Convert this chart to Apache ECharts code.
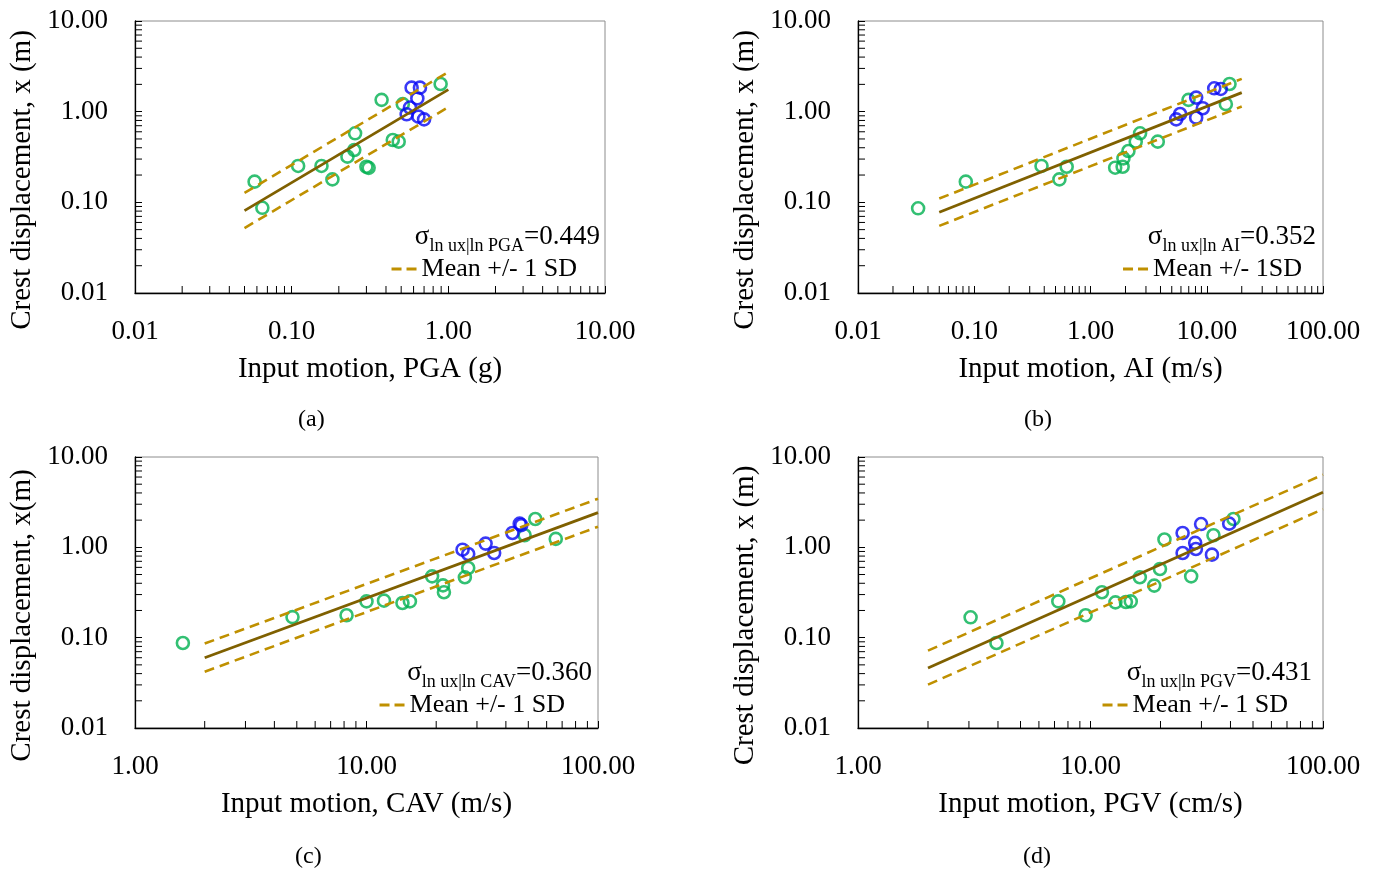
<!DOCTYPE html>
<html><head><meta charset="utf-8">
<script src="https://cdn.jsdelivr.net/npm/echarts@6/dist/echarts.min.js"></script>
<style>html,body{margin:0;padding:0;background:#fff}#c{width:1380px;height:869px}</style>
</head><body><div id="c"></div>
<script>
// ---------- DATA ----------
// (a) PGA
const aGreenX = [0.058, 0.065, 0.110, 0.155, 0.182, 0.227, 0.251, 0.254, 0.300, 0.310, 0.375, 0.442, 0.482, 0.512, 0.893];
const aGreenY = [0.169, 0.087, 0.252, 0.252, 0.179, 0.319, 0.378, 0.577, 0.247, 0.240, 1.35, 0.487, 0.467, 1.21, 2.02];
const aBlueX  = [0.583, 0.659, 0.634, 0.569, 0.542, 0.644, 0.700];
const aBlueY  = [1.84, 1.84, 1.40, 1.11, 0.935, 0.881, 0.822];
const aFitX   = [0.05, 1.0];
const aFitMean  = [0.081, 1.75];
const aFitUpper = [0.127, 2.74];
const aFitLower = [0.052, 1.12];
// (b) AI
const bGreenX = [0.0329, 0.0846, 0.379, 0.540, 0.624, 1.63, 1.89, 1.92, 2.12, 2.45, 2.67, 3.79, 6.97, 14.6, 15.7];
const bGreenY = [0.0859, 0.169, 0.252, 0.179, 0.247, 0.241, 0.247, 0.305, 0.368, 0.467, 0.577, 0.467, 1.35, 1.21, 2.02];
const bBlueX  = [11.6, 13.2, 8.11, 9.25, 5.90, 5.46, 8.11];
const bBlueY  = [1.81, 1.78, 1.43, 1.09, 0.943, 0.822, 0.859];
const bFitX   = [0.05, 20];
const bFitMean  = [0.0776, 1.62];
const bFitUpper = [0.110, 2.30];
const bFitLower = [0.055, 1.14];
// (c) CAV
const cGreenX = [1.61, 4.79, 8.20, 10.0, 11.9, 14.3, 15.4, 19.2, 21.4, 21.6, 26.6, 27.5, 48.2, 53.6, 65.7];
const cGreenY = [0.0873, 0.169, 0.177, 0.252, 0.257, 0.242, 0.252, 0.477, 0.379, 0.318, 0.466, 0.590, 1.36, 2.06, 1.24];
const cBlueX  = [26.0, 27.5, 32.7, 35.6, 42.7, 45.9, 46.6];
const cBlueY  = [0.942, 0.843, 1.10, 0.865, 1.44, 1.83, 1.76];
const cFitX   = [2, 100];
const cFitMean  = [0.060, 2.42];
const cFitUpper = [0.086, 3.45];
const cFitLower = [0.042, 1.69];
// (d) PGV
const dGreenX = [3.05, 3.94, 7.27, 9.53, 11.2, 12.8, 14.2, 14.9, 16.3, 18.8, 19.9, 20.8, 27.1, 33.8, 41.2];
const dGreenY = [0.168, 0.0873, 0.252, 0.177, 0.318, 0.246, 0.248, 0.252, 0.466, 0.377, 0.576, 1.22, 0.477, 1.36, 2.06];
const dBlueX  = [29.9, 24.9, 28.2, 28.4, 24.9, 33.3, 39.5];
const dBlueY  = [1.81, 1.44, 1.12, 0.958, 0.865, 0.830, 1.83];
const dFitX   = [2, 100];
const dFitMean  = [0.0461, 4.07];
const dFitUpper = [0.0718, 6.37];
const dFitLower = [0.0302, 2.65];

// axis ranges / tick decades
const yRange = [0.01, 10];
const yDecades = [0.01, 0.1, 1];
const aXRange = [0.01, 10],  aXDecades = [0.01, 0.1, 1];
const bXRange = [0.01, 100], bXDecades = [0.01, 0.1, 1, 10];
const cXRange = [1, 100],    cXDecades = [1, 10];
const dXRange = [1, 100],    dXDecades = [1, 10];
const minorMultipliers = [2, 3, 4, 5, 6, 7, 8, 9];

// texts
const xNames = ['Input motion, PGA (g)', 'Input motion, AI (m/s)', 'Input motion, CAV (m/s)', 'Input motion, PGV (cm/s)'];
const yNames = ['Crest displacement, x (m)', 'Crest displacement, x (m)', 'Crest displacement, x(m)', 'Crest displacement, x (m)'];
const sigmaSubs = ['ln ux|ln PGA', 'ln ux|ln AI', 'ln ux|ln CAV', 'ln ux|ln PGV'];
const sigmaVals = ['=0.449', '=0.352', '=0.360', '=0.431'];
const legendNames = ['Mean +/- 1 SD', 'Mean +/- 1SD', 'Mean +/- 1 SD', 'Mean +/- 1 SD'];
const panelLabels = ['(a)', '(b)', '(c)', '(d)'];

// ---------- LAYOUT ----------
const FONT = '"Liberation Serif", "Times New Roman", serif';
const zip = (xs, ys) => xs.map((x, i) => [x, ys[i]]);
const minorTicks = decs => { const r = []; decs.forEach(d => minorMultipliers.forEach(m => r.push(+(d * m).toPrecision(3)))); return r; };
const DASH_ICON = 'path://M0,0H10V3H0Z M15,0H25V3H15Z';

const panels = [
  { grid: {left: 135, top: 21, width: 470, height: 272}, xr: aXRange, xd: aXDecades,
    g: [aGreenX, aGreenY], b: [aBlueX, aBlueY], fit: [aFitX, aFitMean, aFitUpper, aFitLower],
    sig: {right: 775, top: 214}, leg: {right: 798, top: 251}, lab: {left: 293, top: 403} },
  { grid: {left: 858, top: 21, width: 465, height: 272}, xr: bXRange, xd: bXDecades,
    g: [bGreenX, bGreenY], b: [bBlueX, bBlueY], fit: [bFitX, bFitMean, bFitUpper, bFitLower],
    sig: {right: 59, top: 214}, leg: {right: 73, top: 251}, lab: {left: 1019, top: 403} },
  { grid: {left: 135, top: 457, width: 463, height: 271}, xr: cXRange, xd: cXDecades,
    g: [cGreenX, cGreenY], b: [cBlueX, cBlueY], fit: [cFitX, cFitMean, cFitUpper, cFitLower],
    sig: {right: 783, top: 650}, leg: {right: 810, top: 687}, lab: {left: 290, top: 840} },
  { grid: {left: 858, top: 457, width: 465, height: 271}, xr: dXRange, xd: dXDecades,
    g: [dGreenX, dGreenY], b: [dBlueX, dBlueY], fit: [dFitX, dFitMean, dFitUpper, dFitLower],
    sig: {right: 63, top: 650}, leg: {right: 87, top: 687}, lab: {left: 1018, top: 840} }
];

const option = {
  backgroundColor: '#fff', animation: false,
  grid: [], xAxis: [], yAxis: [], series: [], title: [], legend: []
};

panels.forEach((p, i) => {
  option.grid.push(Object.assign({show: true, borderColor: '#8c8c8c', borderWidth: 1, containLabel: false}, p.grid));
  const axisCommon = {
    type: 'log', logBase: 10, gridIndex: i,
    axisLine: {show: true, onZero: false, lineStyle: {color: '#000', width: 1.3}},
    axisTick: {show: true, inside: true, length: 7, lineStyle: {color: '#000', width: 1}},
    splitLine: {show: false}, minorTick: {show: false},
    axisLabel: {fontSize: 27, fontFamily: FONT, color: '#000', formatter: v => Number(v).toFixed(2)},
    nameLocation: 'middle', nameTextStyle: {fontSize: 29, fontFamily: FONT, color: '#000'}
  };
  option.xAxis.push(Object.assign({}, axisCommon, {
    min: p.xr[0], max: p.xr[1], name: xNames[i], nameGap: 62,
    axisLabel: Object.assign({}, axisCommon.axisLabel, {margin: 25})
  }));
  option.yAxis.push(Object.assign({}, axisCommon, {
    min: yRange[0], max: yRange[1], name: yNames[i], nameGap: 98,
    axisLabel: Object.assign({}, axisCommon.axisLabel, {margin: 27}),
    nameTextStyle: Object.assign({}, axisCommon.nameTextStyle, {padding: [0, 46, 0, 0]})
  }));

  // minor ticks (Excel-style 2..9 per decade), placed through the axes' scales
  option.series.push({
    type: 'custom', xAxisIndex: i, yAxisIndex: i, silent: true, z: 1,
    data: minorTicks(p.xd).map(v => [v, yRange[0]]),
    renderItem: (params, api) => {
      const pt = api.coord([api.value(0), api.value(1)]);
      return {type: 'line', shape: {x1: pt[0], y1: pt[1], x2: pt[0], y2: pt[1] - 7}, style: {stroke: '#000', lineWidth: 1}};
    }
  });
  option.series.push({
    type: 'custom', xAxisIndex: i, yAxisIndex: i, silent: true, z: 1,
    data: minorTicks(yDecades).map(v => [p.xr[0], v]),
    renderItem: (params, api) => {
      const pt = api.coord([api.value(0), api.value(1)]);
      return {type: 'line', shape: {x1: pt[0], y1: pt[1], x2: pt[0] + 7, y2: pt[1]}, style: {stroke: '#000', lineWidth: 1}};
    }
  });

  // points
  option.series.push({
    type: 'scatter', xAxisIndex: i, yAxisIndex: i, z: 3, symbol: 'circle', symbolSize: 12,
    itemStyle: {color: 'rgba(0,0,0,0)', borderColor: '#00B050', borderWidth: 2.6},
    data: zip(p.g[0], p.g[1])
  });
  option.series.push({
    type: 'scatter', xAxisIndex: i, yAxisIndex: i, z: 3, symbol: 'circle', symbolSize: 12,
    itemStyle: {color: 'rgba(0,0,0,0)', borderColor: '#0808F4', borderWidth: 2.6},
    data: zip(p.b[0], p.b[1])
  });
  // fit lines
  option.series.push({
    type: 'line', xAxisIndex: i, yAxisIndex: i, z: 4, symbol: 'none', silent: true,
    itemStyle: {color: '#7F6000'},
    lineStyle: {color: '#7F6000', width: 2.8}, data: zip(p.fit[0], p.fit[1])
  });
  [p.fit[2], p.fit[3]].forEach(ys => option.series.push({
    name: legendNames[i], type: 'line', xAxisIndex: i, yAxisIndex: i, z: 4, symbol: 'none', silent: true,
    itemStyle: {color: '#BF9000'},
    lineStyle: {color: '#BF9000', width: 2.6, type: [10, 6]}, data: zip(p.fit[0], ys)
  }));

  // sigma annotation
  option.title.push({
    text: '{s|σ}{sub|' + sigmaSubs[i] + '}{m|' + sigmaVals[i] + '}',
    right: p.sig.right, top: p.sig.top,
    textStyle: {fontFamily: FONT, color: '#000', fontWeight: 'normal', rich: {
      s:   {fontSize: 27, lineHeight: 36, fontFamily: FONT, color: '#000'},
      sub: {fontSize: 18, lineHeight: 18, verticalAlign: 'bottom', fontFamily: FONT, color: '#000'},
      m:   {fontSize: 27, lineHeight: 36, fontFamily: FONT, color: '#000'}
    }}
  });
  // panel label
  option.title.push({
    text: panelLabels[i], left: p.lab.left, top: p.lab.top,
    textStyle: {fontSize: 24, fontWeight: 'normal', fontFamily: FONT, color: '#000'}
  });
  // legend
  option.legend.push({
    data: [{name: legendNames[i], icon: DASH_ICON}], right: p.leg.right, top: p.leg.top, orient: 'horizontal',
    itemWidth: 25, itemHeight: 3, itemGap: 5, selectedMode: false,
    itemStyle: {color: '#BF9000', borderWidth: 0},
    textStyle: {fontSize: 26, fontFamily: FONT, color: '#000'}
  });
});

const chart = echarts.init(document.getElementById('c'), null, {renderer: 'canvas'});
chart.setOption(option);
</script>
</body></html>
